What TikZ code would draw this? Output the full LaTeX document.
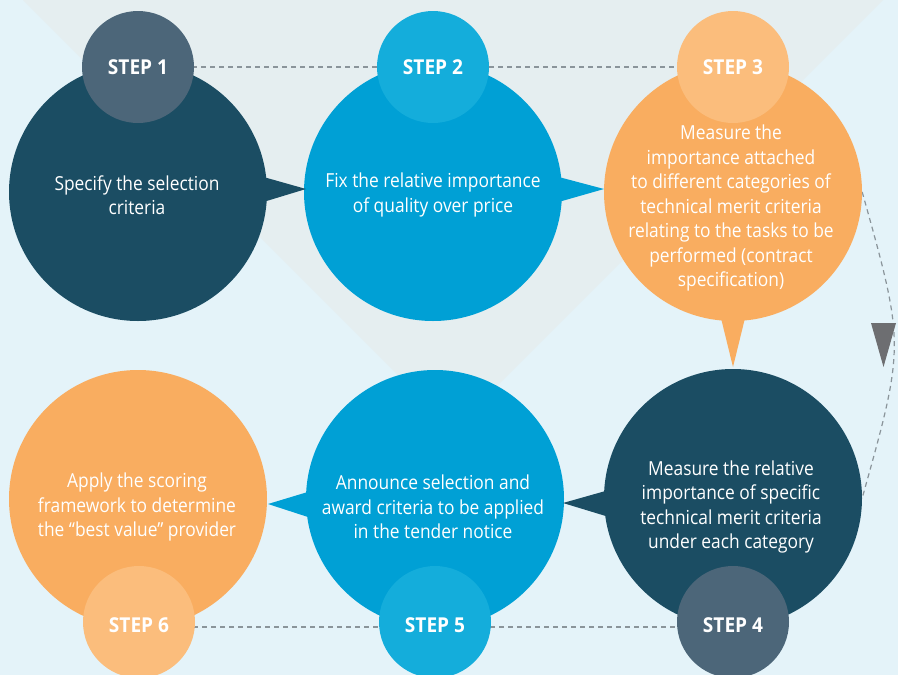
\documentclass[tikz,border=0pt]{standalone}
\usepackage{fontspec}
\setmainfont{Open Sans}[FakeStretch=0.9]
\newfontfamily\stepfont{Open Sans}[FakeStretch=0.93]
\usetikzlibrary{calc}
\pgfdeclarelayer{bglayer}
\pgfdeclarelayer{linelayer}
\pgfsetlayers{bglayer,linelayer,main}
\definecolor{bgbase}{HTML}{E4F3F9}
\definecolor{bgvee}{HTML}{E5EEF0}
\definecolor{darkteal}{HTML}{1B4D63}
\definecolor{darksmall}{HTML}{4C6679}
\definecolor{bluebig}{HTML}{00A0D5}
\definecolor{bluesmall}{HTML}{14ADDB}
\definecolor{orangebig}{HTML}{F9AD60}
\definecolor{orangesmall}{HTML}{FBBD7C}
\definecolor{dashgray}{HTML}{8A949A}
\definecolor{arrowgray}{HTML}{6D6E71}
\tikzset{
  bigcircle/.style={circle, minimum size=258pt, inner sep=0pt},
  stepcircle/.style={circle, minimum size=112pt, inner sep=0pt},
  steplabel/.style={text=white, font=\stepfont\fontsize{20.5}{22}\selectfont\bfseries},
  bodytext/.style={text=white, align=center, font=\fontsize{19.3}{24.5}\selectfont},
  dashline/.style={draw=dashgray, line width=1.2pt, dash pattern=on 5pt off 4pt}
}
\begin{document}
\begin{tikzpicture}[x=1pt,y=-1pt]
% background
\begin{pgfonlayer}{bglayer}
\fill[bgbase] (0,0) rectangle (898,675);
\fill[bgvee] (23,0) -- (883,0) -- (453,430) -- cycle;
\end{pgfonlayer}
\useasboundingbox (0,0) rectangle (898,675);

% big circles
\node[bigcircle, fill=darkteal] (c1) at (138,192) {};
\node[bigcircle, fill=bluebig] (c2) at (433,192) {};
\node[bigcircle, fill=orangebig] (c3) at (733,192) {};
\node[bigcircle, fill=darkteal] (c4) at (733,498) {};
\node[bigcircle, fill=bluebig] (c5) at (435,499) {};
\node[bigcircle, fill=orangebig] (c6) at (138,499) {};

% pointers
\fill[darkteal] ($(c1)+(122,-16)$) -- ($(c1)+(168,-3)$) -- ($(c1)+(122,11)$) -- cycle;
\fill[bluebig] ($(c2)+(122,-16)$) -- ($(c2)+(171,-3)$) -- ($(c2)+(122,11)$) -- cycle;
\fill[orangebig] ($(c3)+(-13,122)$) -- ($(c3)+(0,175)$) -- ($(c3)+(13,122)$) -- cycle;
\fill[darkteal] ($(c4)+(-124,-8)$) -- ($(c4)+(-170,5)$) -- ($(c4)+(-124,19)$) -- cycle;
\fill[bluebig] ($(c5)+(-124,-8)$) -- ($(c5)+(-167,5)$) -- ($(c5)+(-124,19)$) -- cycle;

% step circles
\node[stepcircle, fill=darksmall] (s1) at (138,67) {};
\node[stepcircle, fill=bluesmall] (s2) at (433,67) {};
\node[stepcircle, fill=orangesmall] (s3) at (733,67) {};
\node[stepcircle, fill=darksmall] (s4) at (733,622) {};
\node[stepcircle, fill=bluesmall] (s5) at (435,622) {};
\node[stepcircle, fill=orangesmall] (s6) at (139,622) {};

% dashed connectors (behind circles)
\begin{pgfonlayer}{linelayer}
\draw[dashline] (s1.center) -- (s2.center) -- (s3.center);
\draw[dashline] ($(s6.center)+(0,5)$) -- ($(s5.center)+(0,5)$) -- ($(s4.center)+(0,5)$);
\draw[dashline] (c3.east) .. controls (905,345) .. (c4.east);
\end{pgfonlayer}
\coordinate (tipA) at (883.5,367);
\fill[arrowgray] (871,323) -- (896,323) -- (tipA) -- cycle;

% labels
\node[steplabel] at (s1) {STEP 1};
\node[steplabel] at (s2) {STEP 2};
\node[steplabel] at (s3) {STEP 3};
\node[steplabel] at ($(s4)+(0,3)$) {STEP 4};
\node[steplabel] at ($(s5)+(0,3)$) {STEP 5};
\node[steplabel] at ($(s6)+(0,3)$) {STEP 6};

\node[bodytext] (t1) at (137,195) {Specify the selection\\criteria};
\node[bodytext] (t2) at (433,195) {Fix the relative importance\\of quality over price};
\node[bodytext] (t3) at (731,208) {Measure the\\importance attached\\to different categories of\\technical merit criteria\\relating to the tasks to be\\performed (contract\\specification)};
\node[bodytext] (t4) at (731,507) {Measure the relative\\importance of specific\\technical merit criteria\\under each category};
\node[bodytext] (t5) at (433,507) {Announce selection and\\award criteria to be applied\\in the tender notice};
\node[bodytext] (t6) at (137,507) {Apply the scoring\\framework to determine\\the “best value” provider};
\end{tikzpicture}
\end{document}
